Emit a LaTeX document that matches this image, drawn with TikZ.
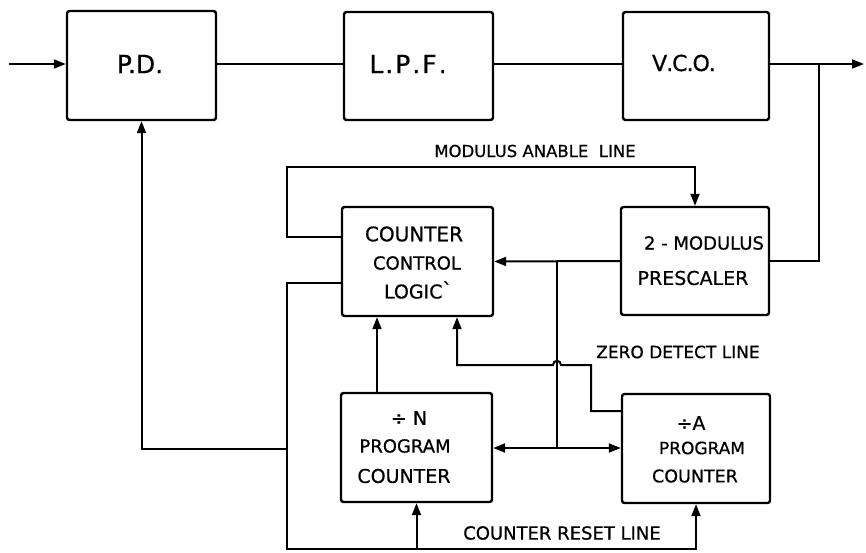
\documentclass[tikz,border=0pt]{standalone}
\usepackage{fontspec}
\setmainfont{DejaVu Sans}[FakeBold=0.6]
\usetikzlibrary{arrows.meta}
\begin{document}
\begin{tikzpicture}[x=1pt,y=-1pt,
  blk/.style={draw,line width=2.4pt,rounded corners=2.5pt,inner sep=0pt},
  wire/.style={line width=2pt},
  arr/.style={wire,-{Triangle[length=12pt,width=9pt]}},
  lbl/.style={inner sep=0pt,font=\fontsize{#1}{#1}\selectfont}]
\useasboundingbox (0,0) rectangle (866,553);
\fill[white] (0,0) rectangle (866,553);
% blocks
\node[blk,minimum width=149pt,minimum height=109pt] (PD)  at (141.5,65.5) {};
\node[blk,minimum width=149pt,minimum height=108pt] (LPF) at (418.5,66) {};
\node[blk,minimum width=146pt,minimum height=108pt] (VCO) at (696,66) {};
\node[blk,minimum width=151pt,minimum height=109pt] (CCL) at (417.5,261.5) {};
\node[blk,minimum width=148pt,minimum height=108pt] (PRE) at (695,261) {};
\node[blk,minimum width=151pt,minimum height=109pt] (DN)  at (416.5,447.5) {};
\node[blk,minimum width=148pt,minimum height=109pt] (DA)  at (696,448.5) {};
% block texts
\node[lbl=25pt] (tPD)  at (140,64) {P.D.};
\node[lbl=25pt] (tLPF) at (408,64) {L\kern2pt.\kern2pt P\kern2pt.\kern2pt F\kern2pt.};
\node[lbl=22pt] (tVCO) at (684,63) {V\kern-1pt.\kern-1pt C\kern-1pt.\kern-1pt O\kern-1pt.};
\node[lbl=20pt] (tC1) at (414,234) {COUNTER};
\node[lbl=18pt] (tC2) at (417,263) {CONTROL};
\node[lbl=19pt] (tC3) at (418,290) {LOGIC\raisebox{2pt}{ˋ}};
\node[lbl=18pt] (tP1) at (704,243) {2 - MODULUS};
\node[lbl=19pt] (tP2) at (693,278) {PRESCALER};
\node[lbl=19pt] (tN1) at (409,418) {÷ N};
\node[lbl=18pt] (tN2) at (405,446) {PROGRAM};
\node[lbl=19pt] (tN3) at (404,476) {COUNTER};
\node[lbl=19pt] (tA1) at (691,423) {÷A};
\node[lbl=17pt] (tA2) at (702,448) {PROGRAM};
\node[lbl=17.5pt] (tA3) at (695,476) {COUNTER};
% line labels
\node[lbl=16.5pt] (lME) at (535,151) {MODULUS ANABLE \ LINE};
\node[lbl=17pt]   (lZD) at (678,352) {ZERO DETECT LINE};
\node[lbl=18pt]   (lCR) at (562,533) {COUNTER RESET LINE};
% coordinates
\coordinate (in)  at (9,64);
\coordinate (out) at (864,64);
\coordinate (j1)  at (819,64);
\coordinate (ml1) at (287,237);
\coordinate (ml2) at (287,167);
\coordinate (j2)  at (557,261.5);
\coordinate (j3)  at (557,448);
\coordinate (c1)  at (377,0);
\coordinate (zd1) at (591,411);
\coordinate (zd2) at (591,365);
\coordinate (zd3) at (457,365);
\coordinate (r1)  at (287,283);
\coordinate (r2)  at (287,549);
\coordinate (r4)  at (287,449);
% top chain
\draw[arr] (in) -- (PD.west |- in);
\draw[wire] (PD.east |- in) -- (LPF.west |- in);
\draw[wire] (LPF.east |- in) -- (VCO.west |- in);
\draw[arr] (VCO.east |- in) -- (out);
\draw[wire] (j1) |- (PRE.east);
% modulus enable line
\draw[arr] (CCL.west |- ml1) -- (ml1) -- (ml2) -| (PRE.north);
% prescaler to counter control logic
\draw[arr] (PRE.west) -- (CCL.east);
\draw[wire] (j2) -- (j3);
\draw[arr] (j3) -- (DN.east |- j3);
\draw[arr] (j3) -- (DA.west |- j3);
% N counter to CCL
\draw[arr] (DN.north -| c1) -- (CCL.south -| c1);
% zero detect line with hop
\draw[arr] (DA.west |- zd1) -- (zd1) -- (zd2) -- (561,365)
  .. controls (561,359.5) and (553,359.5) .. (553,365) -- (zd3) -- (CCL.south -| zd3);
% reset line
\draw[arr] (CCL.west |- r1) -- (r1) -- (r2) -| (DA.south);
\draw[arr] (DN.south |- r2) -- (DN.south);
\draw[arr] (r4) -| (PD.south);
\end{tikzpicture}
\end{document}
